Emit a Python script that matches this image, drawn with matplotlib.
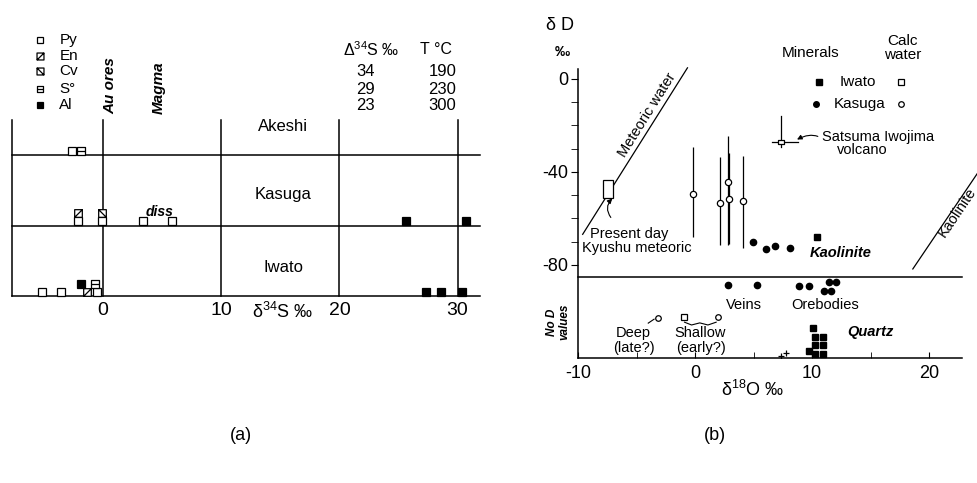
import matplotlib
matplotlib.use("Agg")
import matplotlib.pyplot as plt
from matplotlib.path import Path
from matplotlib.patches import Rectangle

plt.rcParams['font.family'] = ['Liberation Sans', 'DejaVu Sans']
plt.rcParams['mathtext.fontset'] = 'custom'
plt.rcParams['mathtext.rm'] = 'Liberation Sans'
plt.rcParams['mathtext.it'] = 'Liberation Sans:italic'
plt.rcParams['mathtext.bf'] = 'Liberation Sans:bold'

# ---- (a) sulfur isotopes, d34S per mine (band 0=Iwato, 1=Kasuga, 2=Akeshi)
bands = ["Iwato", "Kasuga", "Akeshi"]
py_x = [-2.6, -2.1, -0.1, 3.4, 5.8, -5.2, -3.6, -0.5]
py_band = [2, 1, 1, 1, 1, 0, 0, 0]
py_stack = [0, 0, 0, 0, 0, 0, 0, 0]
en_x = [-2.1, -1.35]
en_band = [1, 0]
en_stack = [1, 0]
cv_x = [-0.1]
cv_band = [1]
cv_stack = [1]
s0_x = [-1.9, -0.7]
s0_band = [2, 0]
s0_stack = [0, 1]
al_x = [25.6, 30.7, -1.9, 27.3, 28.6, 30.4]
al_band = [1, 1, 0, 0, 0, 0]
al_stack = [0, 0, 1, 0, 0, 0]
minerals = ["Py", "En", "Cv", "S°", "Al"]
delta34 = [34, 29, 23]
temps = [190, 230, 300]

# ---- (b) dD vs d18O
met_x = [-9.6, -0.65]
met_y = [-66.8, 4.8]
kao_line_x = [18.6, 25.0]
kao_line_y = [-81.7, -34.0]
kyushu = (-7.45, -47.3)
satsuma = (7.31, -27.1)
satsuma_top = -15.9
satsuma_bottom = -29.2
calc_x = [-0.21, 2.09, 2.78, 2.86, 4.06]
calc_y = [-49.5, -53.3, -44.3, -51.6, -52.5]
calc_top = [-29.2, -33.5, -24.5, -31.8, -33.1]
calc_bot = [-68.0, -71.5, -71.5, -71.0, -72.7]
kao_kas_x = [4.99, 6.02, 6.79, 8.08]
kao_kas_y = [-70.1, -73.1, -71.8, -72.7]
kao_iwa_x = [10.38]
kao_iwa_y = [-68.0]
# lower "no D values" strip (pseudo y positions)
qz_kas_x = [2.78, 5.26, 8.85, 9.7, 11.41, 12.01, 10.99, 11.6]
qz_kas_y = [-88.6, -88.6, -88.9, -88.9, -87.5, -87.5, -91.2, -91.2]
qz_iwa_x = [10.04, 10.21, 10.9, 10.21, 10.9, 9.7, 10.21, 10.9]
qz_iwa_y = [-107.3, -111.0, -111.0, -114.4, -114.4, -117.0, -118.3, -118.3]
cross_x = [7.31, 7.74]
cross_y = [-119.1, -117.8]
deep_x, deep_y = [-3.2], [-102.8]
shallow_sq_x, shallow_circ_x, shallow_y = [-0.98], [1.92], [-102.4]

sq = [(-1, -1), (1, -1), (1, 1), (-1, 1), (-1, -1)]
sq_codes = [Path.MOVETO, Path.LINETO, Path.LINETO, Path.LINETO, Path.CLOSEPOLY]
def boxed(a, b):
    return Path(sq + [a, b], sq_codes + [Path.MOVETO, Path.LINETO])
marker_style = {
    "Py": ('s', 'white'),
    "En": (boxed((-1, -1), (1, 1)), 'white'),
    "Cv": (boxed((-1, 1), (1, -1)), 'white'),
    "S°": (boxed((-1, 0), (1, 0)), 'white'),
    "Al": ('s', 'black'),
}

fig = plt.figure(figsize=(9.77, 4.83), dpi=100)

# ================= panel (a)
ax = fig.add_axes([12 / 977, 1 - 296 / 483, 468 / 977, 176 / 483])
ax.set_xlim(-7.71, 31.9)
ax.set_ylim(0, 2.5)
for s in ['top', 'right']:
    ax.spines[s].set_visible(False)
for s in ['left', 'bottom']:
    ax.spines[s].set_linewidth(1.1)
ax.set_xticks([0, 10, 20, 30])
ax.set_xticklabels(["0", "10", "20", "30"])
ax.tick_params(axis='x', length=0, pad=4, labelsize=14)
ax.set_yticks([])
for xv in [0, 10, 20, 30]:
    ax.plot([xv, xv], [0, 2.5], color='black', lw=1.1, clip_on=False)
for yv in [1, 2]:
    ax.plot([-7.71, 31.9], [yv, yv], color='black', lw=1.1, clip_on=False)

groups = {
    "Py": (py_x, py_band, py_stack),
    "En": (en_x, en_band, en_stack),
    "Cv": (cv_x, cv_band, cv_stack),
    "S°": (s0_x, s0_band, s0_stack),
    "Al": (al_x, al_band, al_stack),
}
for name in minerals:
    xs, bs, st = groups[name]
    ys = [b + 0.06 + 0.115 * k for b, k in zip(bs, st)]
    mk, fc = marker_style[name]
    ax.plot(xs, ys, linestyle='none', marker=mk, ms=5.5, mfc=fc, mec='black',
            mew=0.9, clip_on=False, zorder=3)

for i, name in enumerate(bands):
    ax.text(15.25, [0.41, 1.44, 2.41][i], name, ha='center', va='center', fontsize=12)
ax.text(4.75, 1.2, "diss", ha='center', va='center', fontsize=10,
        style='italic', weight='bold')

# legend
leg_y = [3.64, 3.41, 3.19, 2.94, 2.71]
for name, yy in zip(minerals, leg_y):
    mk, fc = marker_style[name]
    ax.plot([-5.34], [yy], marker=mk, ms=5, mfc=fc, mec='black', mew=0.9,
            linestyle='none', clip_on=False)
    ax.text(-3.7, yy, name, ha='left', va='center', fontsize=11)
ax.text(0.6, 2.59, "Au ores", rotation=90, ha='center', va='bottom',
        fontsize=11, style='italic', weight='bold')
ax.text(4.75, 2.59, "Magma", rotation=90, ha='center', va='bottom',
        fontsize=11, style='italic', weight='bold')

ax.text(22.7, 3.5, "Δ$^{34}$S ‰", ha='center', va='center', fontsize=11.5)
ax.text(28.2, 3.5, "T °C", ha='center', va='center', fontsize=11.5)
for yy, d, t in zip([3.19, 2.94, 2.70], delta34, temps):
    ax.text(22.2, yy, str(d), ha='center', va='center', fontsize=12)
    ax.text(28.7, yy, str(t), ha='center', va='center', fontsize=12)
ax.text(15.2, -0.23, "δ$^{34}$S ‰", ha='center', va='center', fontsize=13)

# ================= panel (b)
bx = fig.add_axes([578 / 977, 1 - 358 / 483, 384 / 977, 289 / 483])
bx.set_xlim(-10, 22.8)
bx.set_ylim(-120, 4.3)
for s in ['top', 'right']:
    bx.spines[s].set_visible(False)
for s in ['left', 'bottom']:
    bx.spines[s].set_linewidth(1.1)
bx.set_xticks([-10, 0, 10, 20])
bx.set_xticklabels(["-10", "0", "10", "20"])
bx.set_xticks([-5, 5, 15], minor=True)
bx.tick_params(axis='x', which='both', direction='in', length=4, pad=5,
               labelsize=13)
bx.set_yticks([0, -40, -80])
bx.set_yticklabels(["0", "-40", "-80"])
bx.set_yticks([-10, -20, -30, -50, -60, -70], minor=True)
bx.tick_params(axis='y', which='both', direction='out', length=5, pad=2,
               labelsize=13)

bx.plot([-10, 22.8], [-85.2, -85.2], color='black', lw=1.1, clip_on=False)
bx.plot(met_x, met_y, color='black', lw=0.9, clip_on=False)
bx.add_patch(Rectangle((kyushu[0] - 0.42, kyushu[1] - 3.7), 0.84, 7.4,
                       facecolor='white', edgecolor='black', lw=0.9, zorder=3))
bx.plot(kao_line_x, kao_line_y, color='black', lw=0.9, clip_on=False)
bx.text(-4.1, -15.5, "Meteoric water", rotation=58, rotation_mode='anchor',
        ha='center', va='center', fontsize=10.5)
bx.text(22.4, -57.2, "Kaolinite", rotation=56, rotation_mode='anchor',
        ha='center', va='center', fontsize=10.5)

bx.annotate("", xy=(-6.9, -50.6), xytext=(-7.05, -60.5),
            arrowprops=dict(arrowstyle='-|>', lw=0.8, color='black',
                            mutation_scale=7,
                            connectionstyle='arc3,rad=-0.5'))
bx.text(-5.6, -66.8, "Present day", ha='center', va='center', fontsize=10.5)
bx.text(-5.0, -72.8, "Kyushu meteoric", ha='center', va='center', fontsize=10.5)

# calc waters Kasuga with ranges
bx.vlines(calc_x, calc_bot, calc_top, color='black', lw=0.9)
bx.plot(calc_x, calc_y, 'o', ms=4.5, mfc='white', mec='black', mew=0.9)
bx.plot(kao_kas_x, kao_kas_y, 'o', ms=4.5, color='black')
bx.plot(kao_iwa_x, kao_iwa_y, 's', ms=4.5, color='black')
bx.text(12.4, -74.8, "Kaolinite", ha='center', va='center', fontsize=10.5,
        style='italic', weight='bold')

# Satsuma Iwojima
bx.plot([satsuma[0], satsuma[0]], [satsuma_top, satsuma_bottom], color='black', lw=0.9)
bx.plot([6.6, 8.76], [satsuma[1], satsuma[1]], color='black', lw=0.9)
rect_mk = Path([(-1.6, -1), (1.6, -1), (1.6, 1), (-1.6, 1), (-1.6, -1)], sq_codes)
bx.plot([satsuma[0]], [satsuma[1]], marker=rect_mk, ms=5, mfc='white',
        mec='black', mew=0.9, linestyle='none')
bx.annotate("", xy=(8.5, -26.6), xytext=(10.7, -25.2),
            arrowprops=dict(arrowstyle='-|>', lw=0.8, color='black',
                            mutation_scale=7,
                            connectionstyle='angle3,angleA=-30,angleB=30'))
bx.text(10.8, -25.0, "Satsuma Iwojima", ha='left', va='center', fontsize=10.5)
bx.text(14.3, -30.5, "volcano", ha='center', va='center', fontsize=10.5)

# legend
bx.text(9.87, 11.2, "Minerals", ha='center', va='center', fontsize=11)
bx.text(17.7, 16.3, "Calc", ha='center', va='center', fontsize=11)
bx.text(17.7, 10.3, "water", ha='center', va='center', fontsize=11)
bx.plot([10.55], [-1.3], 's', ms=4, color='black', clip_on=False)
bx.text(13.9, -1.3, "Iwato", ha='center', va='center', fontsize=11)
bx.plot([17.6], [-1.3], 's', ms=4, mfc='white', mec='black', mew=0.9, clip_on=False)
bx.plot([10.3], [-10.75], 'o', ms=4, color='black')
bx.text(14.06, -10.75, "Kasuga", ha='center', va='center', fontsize=11)
bx.plot([17.6], [-10.75], 'o', ms=4, mfc='white', mec='black', mew=0.9)

# lower strip: no D values
bx.plot(qz_kas_x, qz_kas_y, 'o', ms=4.5, color='black')
bx.text(4.15, -97.2, "Veins", ha='center', va='center', fontsize=10.5)
bx.text(11.15, -97.2, "Orebodies", ha='center', va='center', fontsize=10.5)
bx.plot(qz_iwa_x, qz_iwa_y, 's', ms=4.5, color='black', clip_on=False)
bx.plot(cross_x, cross_y, '+', ms=4, color='black', mew=0.9)
bx.text(15.0, -108.8, "Quartz", ha='center', va='center', fontsize=10.5,
        style='italic', weight='bold')
bx.text(-12.2, -104.5, "No D", rotation=90, ha='center', va='center',
        fontsize=8.5, style='italic', weight='bold', clip_on=False)
bx.text(-11.15, -104.5, "values", rotation=90, ha='center', va='center',
        fontsize=8.5, style='italic', weight='bold', clip_on=False)
bx.plot(deep_x, deep_y, 'o', ms=4, mfc='white', mec='black', mew=0.9)
bx.plot([-4.0, -3.5], [-105.0, -103.3], color='black', lw=0.8)
bx.text(-5.26, -109.2, "Deep", ha='center', va='center', fontsize=10.5)
bx.text(-5.26, -115.7, "(late?)", ha='center', va='center', fontsize=10.5)
bx.plot(shallow_sq_x, shallow_y, 's', ms=4, mfc='white', mec='black', mew=0.9)
bx.plot(shallow_circ_x, shallow_y, 'o', ms=4, mfc='white', mec='black', mew=0.9)
bx.plot([-0.9, -0.3, 0.4, 1.1, 1.8], [-104.6, -105.8, -104.9, -105.8, -104.6],
        color='black', lw=0.8)
bx.text(0.47, -109.2, "Shallow", ha='center', va='center', fontsize=10.5)
bx.text(0.47, -115.7, "(early?)", ha='center', va='center', fontsize=10.5)

bx.text(-11.5, 23.2, "δ D", ha='center', va='center', fontsize=13)
bx.text(-11.3, 11.6, "‰", ha='center', va='center', fontsize=11, weight='bold')
bx.text(4.9, -133.8, "δ$^{18}$O ‰", ha='center', va='center', fontsize=13)

fig.text(241 / 977, 1 - 435 / 483, "(a)", ha='center', va='center', fontsize=13)
fig.text(715 / 977, 1 - 435 / 483, "(b)", ha='center', va='center', fontsize=13)

fig.savefig("out.png", dpi=100)
